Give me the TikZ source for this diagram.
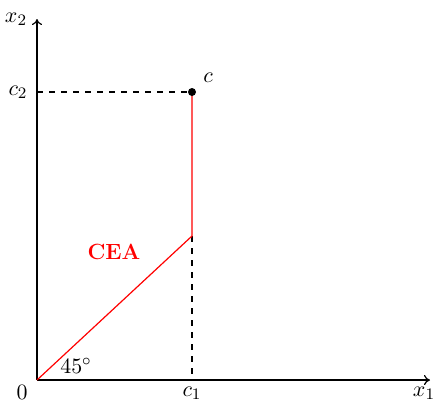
\documentclass[tikz,border=0pt]{standalone}
\usetikzlibrary{arrows.meta}
\begin{document}
\begin{tikzpicture}[x=0.5pt,y=-0.5pt,
  axis/.style={line width=0.6pt,-{To[length=3pt,width=5pt]}},
  guide/.style={dashed,line width=0.6pt},
  cea/.style={red,line width=0.6pt},
  lbl/.style={inner sep=0pt,font=\fontsize{11}{13}\selectfont}]
\useasboundingbox (0,0) rectangle (435,403);
\coordinate (O) at (37,380);
\coordinate (X) at (430,380);
\coordinate (Y) at (37,19);
\coordinate (K) at (192,236);
\coordinate (C) at (192,92);
\coordinate (C1) at (192,380);
\coordinate (C2) at (37,92);
\draw[axis] (O) -- (X);
\draw[axis] (O) -- (Y);
\draw[guide] (C2) -- (C);
\draw[guide] (K) -- (C1);
\draw[cea] (O) -- (K) -- (C);
\fill (C) circle (4);
\node[lbl] (x2) at (16,19) {$x_2$};
\node[lbl] (c2) at (18,92) {$c_2$};
\node[lbl] (zero) at (22,392) {$0$};
\node[lbl] (c1) at (192,393) {$c_1$};
\node[lbl] (x1) at (424,393) {$x_1$};
\node[lbl] (c) at (208,78) {$c$};
\node[lbl] (ang) at (76,366) {$45^\circ$};
\node[lbl,red] (lab) at (114,252) {\textbf{CEA}};
\end{tikzpicture}
\end{document}
